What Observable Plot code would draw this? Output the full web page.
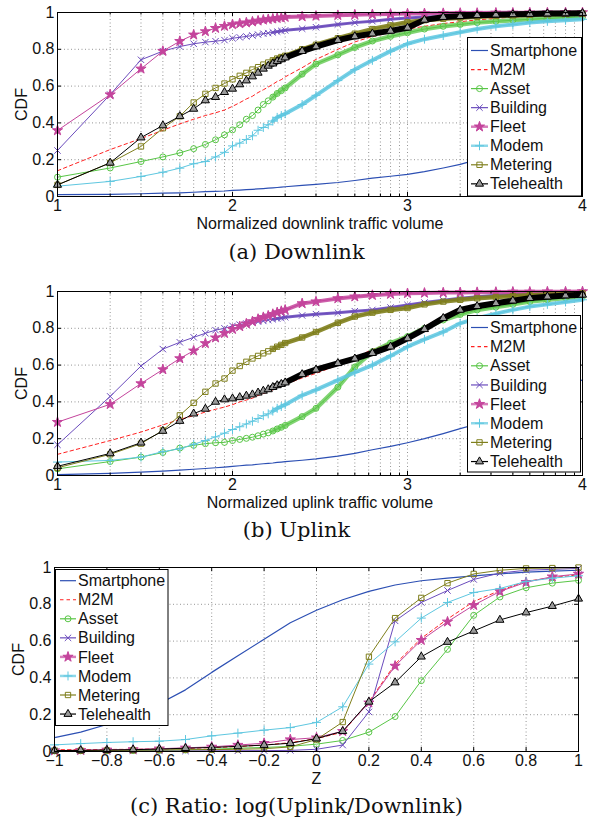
<!DOCTYPE html>
<html><head><meta charset="utf-8">
<script src="https://cdn.jsdelivr.net/npm/d3@7"></script>
<script src="https://cdn.jsdelivr.net/npm/@observablehq/plot@0.6"></script>
<style>
body{margin:0;background:#fff;}
#root{position:relative;width:593px;height:821px;overflow:hidden;background:#fff;font-family:"Liberation Sans",Arial,sans-serif;}
.panel{position:absolute;left:0;}
.cap{position:absolute;left:0;width:593px;text-align:center;font-family:"DejaVu Serif","Liberation Serif",serif;font-size:21px;line-height:26px;color:#111;}
#overlay{position:absolute;left:0;top:0;pointer-events:none;}
</style></head><body><div id="root"></div>
<script>
// ---------- data ----------
const seriesNames = ["Smartphone","M2M","Asset","Building","Fleet","Modem","Metering","Telehealth"];

// normalized traffic volume (plotted on log10 axis; tick labels are exponents)
const trafficX = [10,20,30,40,50,60,70,80,90,100,110,120,130,140,150,160,170,180,190,200,250,300,400,500,630,800,1000,1250,1600,2000,2500,3200,4000,5000,6300,8000,10000];

const downSmartphone = [0.010,0.012,0.015,0.018,0.020,0.023,0.026,0.028,0.030,0.033,0.035,0.037,0.039,0.041,0.043,0.045,0.047,0.049,0.051,0.053,0.060,0.066,0.076,0.087,0.100,0.110,0.120,0.135,0.155,0.175,0.200,0.225,0.255,0.285,0.320,0.360,0.400];
const downM2M = [0.140,0.255,0.315,0.360,0.395,0.420,0.440,0.455,0.470,0.490,0.510,0.530,0.545,0.565,0.580,0.595,0.610,0.625,0.635,0.650,0.700,0.745,0.800,0.840,0.870,0.890,0.910,0.925,0.940,0.950,0.960,0.968,0.975,0.980,0.985,0.990,0.993];
const downAsset = [0.105,0.155,0.190,0.215,0.237,0.260,0.283,0.308,0.335,0.362,0.390,0.420,0.440,0.470,0.500,0.520,0.540,0.560,0.575,0.590,0.665,0.720,0.770,0.810,0.845,0.870,0.890,0.910,0.925,0.935,0.945,0.952,0.958,0.963,0.968,0.972,0.976];
const downBuilding = [0.250,0.554,0.743,0.790,0.815,0.830,0.839,0.844,0.850,0.860,0.865,0.870,0.875,0.880,0.885,0.888,0.892,0.896,0.900,0.903,0.912,0.920,0.935,0.945,0.953,0.963,0.970,0.975,0.978,0.980,0.983,0.986,0.988,0.990,0.992,0.994,0.995];
const downFleet = [0.359,0.554,0.694,0.790,0.844,0.879,0.897,0.915,0.926,0.935,0.940,0.945,0.950,0.955,0.960,0.963,0.966,0.969,0.972,0.975,0.978,0.981,0.985,0.988,0.990,0.992,0.994,0.995,0.996,0.997,0.997,0.998,0.998,0.999,0.999,1.000,1.000];
const downModem = [0.056,0.082,0.109,0.132,0.154,0.178,0.190,0.215,0.240,0.275,0.290,0.310,0.330,0.360,0.375,0.390,0.410,0.430,0.440,0.450,0.500,0.550,0.630,0.690,0.740,0.790,0.830,0.855,0.875,0.893,0.910,0.925,0.935,0.945,0.952,0.958,0.963];
const downMetering = [0.063,0.183,0.272,0.371,0.436,0.511,0.558,0.590,0.614,0.637,0.656,0.672,0.690,0.703,0.717,0.728,0.740,0.750,0.758,0.765,0.800,0.825,0.860,0.885,0.910,0.930,0.947,0.958,0.966,0.972,0.977,0.981,0.984,0.987,0.990,0.992,0.994];
const downTelehealth = [0.063,0.183,0.320,0.386,0.436,0.476,0.522,0.540,0.567,0.585,0.609,0.630,0.652,0.672,0.694,0.710,0.722,0.735,0.745,0.755,0.790,0.815,0.850,0.870,0.885,0.900,0.917,0.960,0.975,0.980,0.985,0.988,0.990,0.992,0.994,0.995,0.996];

const upSmartphone = [0.005,0.012,0.018,0.024,0.029,0.034,0.038,0.042,0.046,0.050,0.053,0.056,0.058,0.061,0.064,0.066,0.068,0.071,0.073,0.075,0.083,0.090,0.105,0.120,0.140,0.158,0.178,0.200,0.228,0.255,0.280,0.310,0.340,0.375,0.420,0.470,0.520];
const upM2M = [0.115,0.190,0.236,0.275,0.305,0.325,0.345,0.360,0.372,0.385,0.400,0.410,0.420,0.435,0.445,0.455,0.465,0.478,0.486,0.495,0.530,0.555,0.600,0.640,0.685,0.720,0.760,0.810,0.865,0.905,0.925,0.940,0.952,0.962,0.970,0.977,0.983];
const upAsset = [0.036,0.076,0.100,0.125,0.149,0.164,0.173,0.178,0.180,0.190,0.196,0.202,0.208,0.216,0.225,0.232,0.242,0.253,0.262,0.272,0.320,0.365,0.480,0.590,0.673,0.720,0.755,0.800,0.845,0.875,0.900,0.915,0.930,0.945,0.955,0.965,0.972];
const upBuilding = [0.167,0.430,0.595,0.687,0.724,0.751,0.773,0.790,0.800,0.813,0.820,0.826,0.830,0.836,0.840,0.845,0.849,0.853,0.856,0.860,0.870,0.877,0.885,0.893,0.900,0.913,0.927,0.940,0.952,0.963,0.972,0.980,0.984,0.988,0.990,0.992,0.994];
const upFleet = [0.290,0.387,0.500,0.576,0.636,0.678,0.718,0.749,0.773,0.795,0.810,0.825,0.837,0.850,0.860,0.868,0.877,0.886,0.893,0.900,0.935,0.945,0.962,0.972,0.980,0.986,0.990,0.992,0.994,0.995,0.996,0.997,0.998,0.998,0.999,0.999,1.000];
const upModem = [0.073,0.082,0.100,0.130,0.145,0.170,0.190,0.210,0.230,0.250,0.265,0.280,0.295,0.310,0.325,0.335,0.350,0.365,0.375,0.385,0.436,0.465,0.518,0.560,0.600,0.650,0.700,0.740,0.780,0.827,0.855,0.880,0.900,0.918,0.930,0.943,0.955];
const upMetering = [0.042,0.115,0.173,0.245,0.327,0.395,0.455,0.500,0.527,0.570,0.595,0.618,0.636,0.650,0.664,0.675,0.688,0.700,0.710,0.720,0.750,0.780,0.830,0.864,0.885,0.900,0.910,0.930,0.945,0.955,0.963,0.970,0.975,0.980,0.984,0.987,0.990];
const upTelehealth = [0.050,0.120,0.178,0.242,0.296,0.336,0.362,0.400,0.413,0.418,0.425,0.433,0.440,0.450,0.460,0.468,0.480,0.490,0.497,0.505,0.550,0.575,0.610,0.635,0.665,0.700,0.745,0.795,0.855,0.900,0.920,0.936,0.950,0.964,0.972,0.978,0.982];

// Z = log(Uplink/Downlink)
const zValues = [-1,-0.9,-0.8,-0.7,-0.6,-0.5,-0.4,-0.3,-0.2,-0.1,0,0.1,0.2,0.3,0.4,0.5,0.6,0.7,0.8,0.9,1];
const ratioSmartphone = [0.075,0.105,0.147,0.200,0.260,0.335,0.430,0.520,0.610,0.700,0.768,0.825,0.870,0.905,0.928,0.942,0.955,0.965,0.975,0.980,0.985];
const ratioM2M = [0.010,0.010,0.011,0.012,0.014,0.017,0.021,0.027,0.035,0.048,0.070,0.105,0.270,0.475,0.615,0.720,0.815,0.875,0.925,0.945,0.960];
const ratioAsset = [0.003,0.004,0.004,0.005,0.006,0.008,0.012,0.018,0.022,0.028,0.040,0.060,0.105,0.190,0.385,0.555,0.740,0.840,0.890,0.915,0.930];
const ratioBuilding = [0.002,0.002,0.002,0.003,0.003,0.003,0.004,0.004,0.005,0.006,0.012,0.035,0.215,0.710,0.810,0.875,0.935,0.970,0.985,0.990,0.995];
const ratioFleet = [0.005,0.007,0.009,0.011,0.015,0.020,0.025,0.035,0.045,0.065,0.075,0.110,0.265,0.465,0.605,0.705,0.795,0.870,0.920,0.950,0.965];
const ratioModem = [0.036,0.043,0.049,0.053,0.056,0.065,0.085,0.100,0.116,0.130,0.158,0.243,0.475,0.596,0.725,0.810,0.864,0.886,0.924,0.942,0.955];
const ratioMetering = [0.005,0.005,0.006,0.007,0.008,0.010,0.010,0.012,0.015,0.025,0.065,0.160,0.515,0.725,0.835,0.915,0.965,0.985,0.995,0.997,1.000];
const ratioTelehealth = [0.005,0.006,0.008,0.010,0.013,0.018,0.022,0.028,0.035,0.045,0.070,0.110,0.270,0.375,0.515,0.595,0.655,0.715,0.755,0.790,0.830];

// ticks
const logMajorTicks = [10,100,1000,10000];
const logMinorTicks = [20,30,40,50,60,70,80,90,200,300,400,500,600,700,800,900,2000,3000,4000,5000,6000,7000,8000,9000];
const cdfTicks = [0,0.2,0.4,0.6,0.8,1];
const zTicks = [-1,-0.8,-0.6,-0.4,-0.2,0,0.2,0.4,0.6,0.8,1];

const panelTitles = ["Normalized downlink traffic volume","Normalized uplink traffic volume","Z"];
const captions = ["(a) Downlink","(b) Uplink","(c) Ratio: log(Uplink/Downlink)"];

// ---------- styles ----------
const seriesColor = {Smartphone:"#2c4fb3", M2M:"#ff2020", Asset:"#58c646", Building:"#6b4cbd", Fleet:"#c4449c", Modem:"#5ec7e0", Metering:"#7f7f1c", Telehealth:"#000000"};
const seriesMarker = {Asset:"circle", Building:"times", Fleet:"star", Modem:"plus", Metering:"square", Telehealth:"triangle"};
const markerFill = {Asset:"none", Building:"none", Fleet:"#c4449c", Modem:"none", Metering:"none", Telehealth:"#9a9a9a"};
const bandWidth = {Asset:4.5, Building:3, Fleet:4, Modem:4, Metering:4.5, Telehealth:6};
const bandOpacity = {Asset:0.75, Building:0.9, Fleet:0.85, Modem:0.85, Metering:0.9, Telehealth:1};

const root = document.getElementById("root");
const FONT = "Liberation Sans, Arial, sans-serif";
const fmt = d3.format("~g");

function makePanel({top, xs, values, log, title, marginLeft, marginRight, bandFrom}) {
  const H = 236, mt = 12, mb = 40;
  const plotH = H - mt - mb;
  const plotW = 593 - marginLeft - marginRight;
  const rows = seriesNames.map((s, i) => values[i].map((v, j) => ({series: s, x: xs[j], y: v})));
  const gridXs = log ? [...logMinorTicks, ...logMajorTicks.slice(1, -1)] : zTicks.slice(1, -1);
  const marks = [
    Plot.gridX(gridXs, {stroke: "#8a8a8a", strokeOpacity: 0.9, strokeDasharray: "1,2.5"}),
    Plot.gridY([0.2,0.4,0.6,0.8], {stroke: "#8a8a8a", strokeOpacity: 0.9, strokeDasharray: "1,2.5"})
  ];
  seriesNames.forEach((s, i) => {
    const d = rows[i];
    const c = seriesColor[s];
    if (bandFrom != null && seriesMarker[s]) {
      marks.push(Plot.line(d.filter(r => r.x >= bandFrom), {x: "x", y: "y", stroke: c, strokeWidth: bandWidth[s], strokeOpacity: bandOpacity[s]}));
    }
    marks.push(Plot.line(d, {x: "x", y: "y", stroke: c, strokeWidth: s === "Smartphone" ? 1.2 : 1, strokeDasharray: s === "M2M" ? "3.5,3" : null}));
    if (seriesMarker[s]) {
      marks.push(Plot.dot(d, {x: "x", y: "y", symbol: seriesMarker[s], r: s === "Fleet" ? 3.2 : 3, stroke: c, strokeWidth: 1, fill: markerFill[s]}));
    }
  });
  const majors = log ? logMajorTicks : zTicks;
  const minors = log ? logMinorTicks : [];
  marks.push(
    Plot.tickX(majors, {x: d => d, insetTop: plotH - 4, stroke: "#000"}),
    Plot.tickX(majors, {x: d => d, insetBottom: plotH - 4, stroke: "#000"}),
    Plot.tickX(minors, {x: d => d, insetTop: plotH - 2.5, stroke: "#000"}),
    Plot.tickX(minors, {x: d => d, insetBottom: plotH - 2.5, stroke: "#000"}),
    Plot.tickY(cdfTicks, {y: d => d, insetRight: plotW - 4, stroke: "#000"}),
    Plot.tickY(cdfTicks, {y: d => d, insetLeft: plotW - 4, stroke: "#000"}),
    Plot.frame({stroke: "#000", strokeWidth: 1}),
    Plot.axisX(majors, {tickSize: 0, tickPadding: 3, tickFormat: log ? (d => String(Math.round(Math.log10(d)))) : fmt, fontSize: 16, label: null}),
    Plot.axisY(cdfTicks, {tickSize: 0, tickPadding: 3, tickFormat: fmt, fontSize: 16, label: null}),
    Plot.text(["CDF"], {text: d => d, frameAnchor: "left", dx: -36, rotate: -90, textAnchor: "middle", lineAnchor: "middle", fontSize: 16}),
    Plot.text([title], {text: d => d, frameAnchor: "bottom", dy: 27, textAnchor: "middle", lineAnchor: "middle", fontSize: 16})
  );
  const svg = Plot.plot({
    width: 593, height: H,
    marginLeft, marginRight, marginTop: mt, marginBottom: mb,
    x: log ? {type: "log", domain: [10, 10000]} : {domain: [-1, 1]},
    y: {domain: [0, 1]},
    style: {fontFamily: FONT, fontSize: "16px", background: "transparent", color: "#111"},
    marks
  });
  svg.classList.add("panel");
  svg.style.top = top + "px";
  root.appendChild(svg);
}

makePanel({top: 0, xs: trafficX, log: true, title: panelTitles[0], marginLeft: 57, marginRight: 11, bandFrom: 170,
  values: [downSmartphone, downM2M, downAsset, downBuilding, downFleet, downModem, downMetering, downTelehealth]});
makePanel({top: 279, xs: trafficX, log: true, title: panelTitles[1], marginLeft: 57, marginRight: 11, bandFrom: 170,
  values: [upSmartphone, upM2M, upAsset, upBuilding, upFleet, upModem, upMetering, upTelehealth]});
makePanel({top: 555, xs: zValues, log: false, title: panelTitles[2], marginLeft: 54, marginRight: 15, bandFrom: null,
  values: [ratioSmartphone, ratioM2M, ratioAsset, ratioBuilding, ratioFleet, ratioModem, ratioMetering, ratioTelehealth]});

// captions
[[239, captions[0]], [517, captions[1]], [793, captions[2]]].forEach(([t, txt]) => {
  const div = document.createElement("div");
  div.className = "cap";
  div.style.top = t + "px";
  div.textContent = txt;
  root.appendChild(div);
});

// legends
const overlay = d3.select(root).append("svg").attr("id", "overlay").attr("width", 593).attr("height", 821);
const symbolType = {circle: d3.symbolCircle, times: d3.symbolTimes, star: d3.symbolStar, plus: d3.symbolPlus, square: d3.symbolSquare, triangle: d3.symbolTriangle};
function legend(x0, y0, w, h, firstY, step, lineX0, lineX1, textX) {
  const g = overlay.append("g");
  g.append("rect").attr("x", x0).attr("y", y0).attr("width", w).attr("height", h).attr("fill", "#fff").attr("stroke", "#000").attr("stroke-width", 1);
  seriesNames.forEach((s, i) => {
    const y = firstY + i * step;
    const c = seriesColor[s];
    g.append("line").attr("x1", lineX0).attr("x2", lineX1).attr("y1", y).attr("y2", y)
      .attr("stroke", c).attr("stroke-width", s === "Fleet" || s === "Modem" ? 2.5 : 1.2)
      .attr("stroke-opacity", s === "Fleet" || s === "Modem" ? 0.7 : 1)
      .attr("stroke-dasharray", s === "M2M" ? "3.5,3" : null);
    if (seriesMarker[s]) {
      const r = s === "Fleet" ? 3.2 : 3;
      g.append("path").attr("d", d3.symbol(symbolType[seriesMarker[s]], Math.PI * r * r)())
        .attr("transform", `translate(${(lineX0 + lineX1) / 2},${y})`)
        .attr("stroke", c).attr("fill", markerFill[s]).attr("stroke-width", 1);
    }
    g.append("text").attr("x", textX).attr("y", y).attr("dy", "0.35em")
      .attr("font-family", FONT).attr("font-size", 16).attr("fill", "#111").text(s);
  });
}
legend(467.5, 37.5, 114, 158.5, 50.5, 19.05, 471, 488, 490);
legend(467.5, 315.5, 113, 156.5, 327.5, 19.15, 471, 488, 490);
legend(55.5, 569.5, 112.5, 156, 580.7, 19.05, 60, 76, 78);
</script></body></html>
